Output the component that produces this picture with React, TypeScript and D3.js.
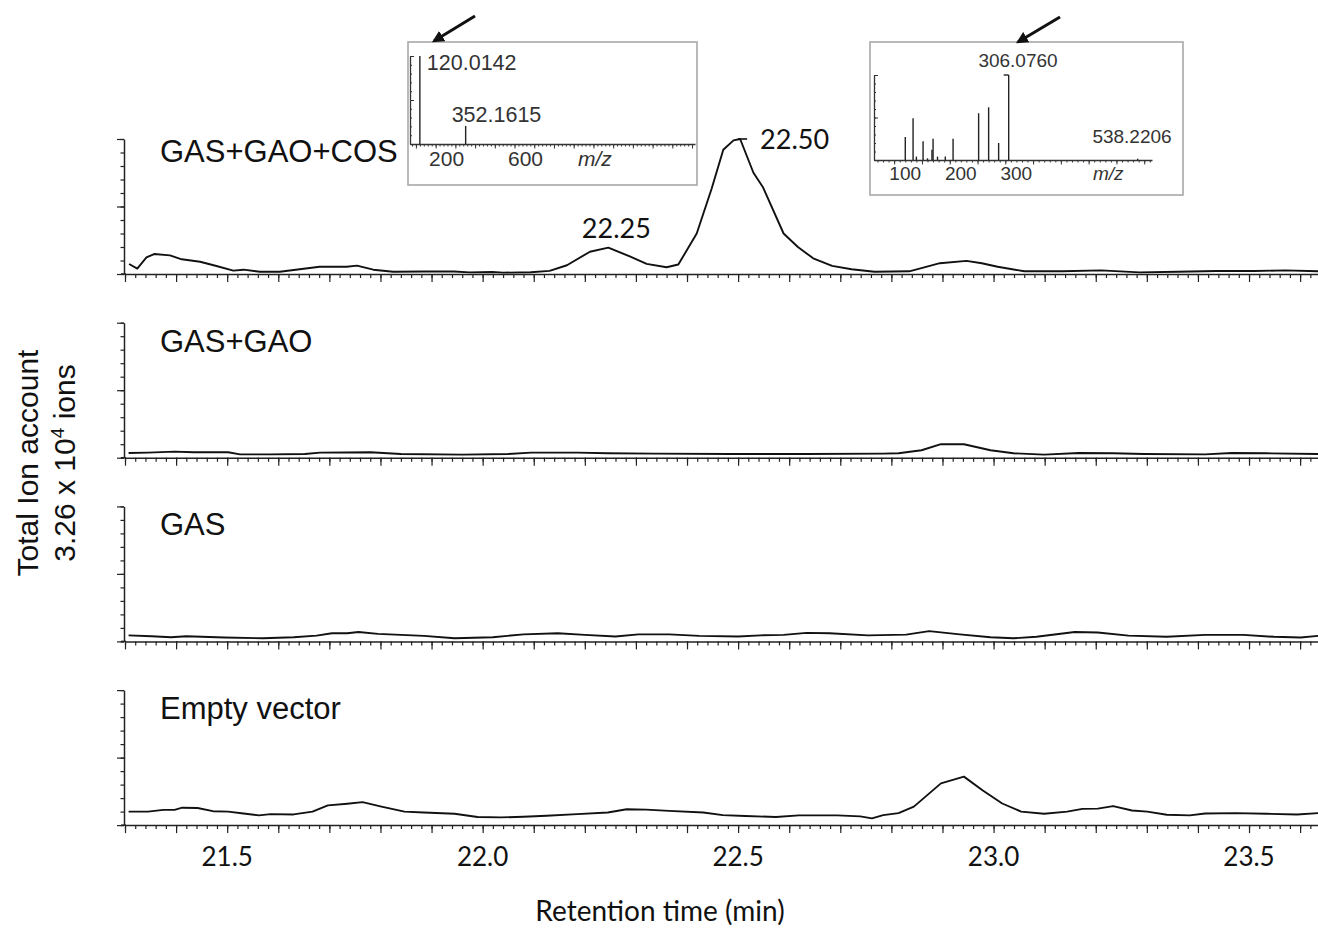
import React, { useEffect, useRef } from "react";
import * as d3 from "d3";

// total ion chromatograms: [retention time (min), % of full scale (3.26 x 10^4 ions)]
const gasGaoCos: [number, number][] = [
  [21.308, 7.4], [21.324, 4], [21.342, 12.3], [21.357, 14.8], [21.388, 13.8], [21.411, 10.9],
  [21.447, 9.1], [21.479, 5.9], [21.512, 2.5], [21.532, 3.2], [21.564, 1.7], [21.603, 1.7],
  [21.642, 3.5], [21.681, 5.4], [21.734, 5.4], [21.754, 6.2], [21.786, 3.2], [21.825, 1.7],
  [21.884, 1.8], [21.944, 1.8], [21.974, 1.2], [22.019, 1.5], [22.04, 1], [22.094, 1.3],
  [22.131, 2.3], [22.165, 6.5], [22.21, 16.5], [22.246, 19.5], [22.288, 13], [22.321, 7.5],
  [22.36, 5], [22.383, 7], [22.419, 30], [22.448, 63], [22.471, 92], [22.491, 99], [22.504, 100],
  [22.53, 75], [22.549, 64], [22.589, 30], [22.617, 20], [22.647, 11.6], [22.684, 6], [22.722, 3.5],
  [22.767, 1.7], [22.835, 2], [22.857, 4.2], [22.895, 8], [22.947, 9.7], [22.977, 8], [23.008, 5.4],
  [23.06, 2], [23.135, 2], [23.21, 2.7], [23.286, 1.2], [23.361, 1.7], [23.436, 2.2], [23.511, 2.2],
  [23.571, 2.7], [23.635, 2],
];
const gasGao: [number, number][] = [
  [21.307, 3.5], [21.345, 3.75], [21.397, 4.5], [21.435, 4], [21.502, 4], [21.525, 2.5],
  [21.585, 2.5], [21.652, 2.75], [21.682, 3.75], [21.78, 4], [21.84, 2.75], [21.96, 2.25],
  [22.05, 2.75], [22.095, 3.75], [22.185, 3.75], [22.245, 3.25], [22.335, 3], [22.484, 2.75],
  [22.634, 2.75], [22.784, 3], [22.814, 3.25], [22.859, 5.5], [22.897, 10], [22.942, 10],
  [22.994, 5.5], [23.039, 3.25], [23.099, 2.25], [23.167, 3.5], [23.234, 3.25], [23.294, 2.75],
  [23.414, 2.5], [23.466, 3.5], [23.534, 3.25], [23.636, 2.75],
];
const gasOnly: [number, number][] = [
  [21.307, 4.5], [21.352, 3.8], [21.39, 3.1], [21.42, 3.8], [21.495, 2.9], [21.57, 2.3],
  [21.63, 3.1], [21.675, 4.3], [21.705, 6], [21.735, 6], [21.757, 7], [21.795, 5.6], [21.885, 4.1],
  [21.945, 2.3], [22.02, 3.1], [22.08, 5.2], [22.147, 6], [22.2, 4.8], [22.26, 3.6], [22.305, 5.2],
  [22.365, 5.2], [22.424, 4.1], [22.5, 3.6], [22.544, 4.5], [22.589, 4.8], [22.634, 6.3],
  [22.679, 6], [22.754, 4.5], [22.829, 5], [22.874, 7.6], [22.934, 5.2], [22.994, 3.1],
  [23.039, 2.3], [23.084, 3.4], [23.159, 7], [23.204, 6.6], [23.264, 4.3], [23.339, 3.4],
  [23.414, 4.8], [23.489, 4.8], [23.549, 3.4], [23.601, 2.9], [23.636, 4.1],
];
const emptyVector: [number, number][] = [
  [21.307, 10], [21.345, 10], [21.375, 11.3], [21.397, 11.3], [21.412, 12.9], [21.442, 12.7],
  [21.472, 10.3], [21.502, 10], [21.532, 8.6], [21.562, 7.2], [21.585, 8.1], [21.63, 7.9],
  [21.667, 10], [21.697, 14.6], [21.735, 15.8], [21.765, 17], [21.802, 13.7], [21.847, 10],
  [21.885, 9.3], [21.945, 8.4], [21.99, 6], [22.035, 5.7], [22.08, 6.2], [22.125, 6.9],
  [22.185, 8.1], [22.245, 9.3], [22.282, 11.7], [22.32, 11.5], [22.365, 10.5], [22.432, 9.3],
  [22.47, 7.4], [22.514, 6.7], [22.574, 6], [22.619, 7.2], [22.694, 7.2], [22.739, 6.5],
  [22.762, 5], [22.784, 7.4], [22.814, 8.9], [22.844, 13.7], [22.897, 30.9], [22.942, 35.9],
  [22.979, 25.6], [23.017, 16], [23.054, 10], [23.099, 8.4], [23.144, 10], [23.174, 12],
  [23.204, 12.2], [23.234, 14.1], [23.271, 10.8], [23.301, 10], [23.339, 7.7], [23.384, 7.2],
  [23.414, 8.6], [23.474, 8.9], [23.534, 8.4], [23.594, 7.9], [23.636, 8.9],
];

const sampleNames = ["GAS+GAO+COS", "GAS+GAO", "GAS", "Empty vector"];
const traces = [gasGaoCos, gasGao, gasOnly, emptyVector];
const rtLabels = [21.5, 22.0, 22.5, 23.0, 23.5];
const peakRts = [22.25, 22.5];
const peakTexts = ["22.25", "22.50"];

// MS spectra in the insets (m/z, relative intensity %)
const spec1Mz = [120.0142, 352.1615];
const spec1Int = [100, 20.5];
const spec1Labels = ["120.0142", "352.1615"];
const spec1Ticks = [200, 600];
const spec2Mz = [120, 134, 140, 152, 160, 168, 170, 178, 192, 206, 252, 270, 288, 306.076, 538.2206];
const spec2Int = [27, 49, 4, 22, 2, 12, 25, 4, 4, 25, 55, 62, 20, 100, 1.5];
const spec2Ticks = [100, 200, 300];

const ARIAL = "'Liberation Sans', Arial, sans-serif";
const CALIBRI = "Lato, 'Open Sans', sans-serif";

export default function App() {
  const ref = useRef<SVGSVGElement>(null);

  useEffect(() => {
    const svg = d3.select(ref.current);
    svg.selectAll("*").remove();

    const x = d3.scaleLinear().domain([21.3, 23.635]).range([125, 1318]);
    const minorRt = d3.range(0, 117).map((i) => +(21.3 + i * 0.02).toFixed(2)).filter((v) => v <= 23.63);
    const majorRt = d3.range(0, 24).map((i) => +(21.3 + i * 0.1).toFixed(1));

    const line = d3.line<[number, number]>();

    traces.forEach((data, i) => {
      const top = 139 + i * 183.7;
      const base = top + 135;
      const y = d3.scaleLinear().domain([0, 100]).range([base, top]);
      const g = svg.append("g");

      const xa = g.append("g").attr("transform", `translate(0,${base})`);
      xa.call(d3.axisBottom(x).tickValues(minorRt).tickSize(4).tickSizeOuter(0).tickFormat(() => ""));
      xa.append("g").call(d3.axisBottom(x).tickValues(majorRt).tickSize(8).tickSizeOuter(0).tickFormat(() => ""))
        .select(".domain").remove();
      g.append("line").attr("x1", 121).attr("x2", 126).attr("y1", base).attr("y2", base)
        .attr("stroke", "#222").attr("stroke-width", 1.5);

      const ya = g.append("g").attr("transform", "translate(124,0)");
      ya.call(d3.axisLeft(y).tickValues(d3.range(0, 101, 10)).tickSize(3.5).tickSizeOuter(0).tickFormat(() => ""));
      ya.append("g").call(d3.axisLeft(y).tickValues([0, 50, 100]).tickSize(7).tickSizeOuter(0).tickFormat(() => ""))
        .select(".domain").remove();

      g.selectAll(".domain").attr("stroke", "#222").attr("stroke-width", 1.5);
      g.selectAll(".tick line").attr("stroke", "#222").attr("stroke-width", 1.2);

      line.x((d) => x(d[0])).y((d) => y(d[1]));
      g.append("path").datum(data).attr("d", line).attr("fill", "none")
        .attr("stroke", "#111").attr("stroke-width", 1.9).attr("stroke-linejoin", "round");

      g.append("text").attr("x", 160).attr("y", top + (i === 0 ? 23 : 29))
        .attr("font-family", ARIAL).attr("font-size", 31).attr("fill", "#111")
        .text(sampleNames[i]);

      if (i === 0) {
        g.append("text").attr("x", x(peakRts[0]) + 6).attr("y", 238).attr("text-anchor", "middle")
          .attr("font-family", CALIBRI).attr("font-size", 27).attr("fill", "#111").text(peakTexts[0]);
        g.append("line").attr("x1", x(peakRts[1])).attr("x2", x(peakRts[1]) + 9)
          .attr("y1", y(100)).attr("y2", y(100)).attr("stroke", "#111").attr("stroke-width", 1.6);
        g.append("text").attr("x", x(peakRts[1]) + 22).attr("y", 149)
          .attr("font-family", CALIBRI).attr("font-size", 27).attr("fill", "#111").text(peakTexts[1]);
      }
      if (i === traces.length - 1) {
        g.selectAll(".rtlab").data(rtLabels).join("text")
          .attr("x", (d) => x(d)).attr("y", 866).attr("text-anchor", "middle")
          .attr("font-family", CALIBRI).attr("font-size", 26).attr("fill", "#111")
          .text((d) => d.toFixed(1));
      }
    });

    svg.append("text").attr("x", 660).attr("y", 921).attr("text-anchor", "middle")
      .attr("font-family", CALIBRI).attr("font-size", 28).attr("fill", "#111")
      .text("Retention time (min)");

    const yt = svg.append("g").attr("font-family", ARIAL).attr("font-size", 30).attr("fill", "#111");
    yt.append("text").attr("transform", "translate(38,463) rotate(-90)").attr("text-anchor", "middle")
      .text("Total Ion account");
    const t2 = yt.append("text").attr("transform", "translate(75,463) rotate(-90)").attr("text-anchor", "middle");
    t2.append("tspan").text("3.26 x 10");
    t2.append("tspan").attr("font-size", 19).attr("dy", -11).text("4");
    t2.append("tspan").attr("dy", 11).text(" ions");

    // arrow marker
    svg.append("defs").append("marker").attr("id", "ah").attr("viewBox", "0 0 10 10")
      .attr("refX", 8).attr("refY", 5).attr("markerWidth", 4).attr("markerHeight", 4)
      .attr("orient", "auto").append("path").attr("d", "M0,0L10,5L0,10z").attr("fill", "#111");

    const inset = (
      box: [number, number, number, number],
      xr: [number, number], dom: [number, number], yr: [number, number],
      mz: number[], inten: number[], minorStep: number, majorStep: number,
      ticks: number[], fs: number, axisY: number,
    ) => {
      const g = svg.append("g");
      g.append("rect").attr("x", box[0]).attr("y", box[1]).attr("width", box[2]).attr("height", box[3])
        .attr("fill", "#fff").attr("stroke", "#a8a8a8").attr("stroke-width", 1.6);
      const xs = d3.scaleLinear().domain(dom).range(xr);
      const ys = d3.scaleLinear().domain([0, 100]).range(yr);
      const minor = d3.range(Math.ceil(dom[0] / minorStep) * minorStep, dom[1], minorStep);
      const major = d3.range(Math.ceil(dom[0] / majorStep) * majorStep, dom[1], majorStep);
      const xa = g.append("g").attr("transform", `translate(0,${yr[0]})`);
      xa.call(d3.axisBottom(xs).tickValues(minor).tickSize(2.5).tickSizeOuter(0).tickFormat(() => ""));
      xa.append("g").call(d3.axisBottom(xs).tickValues(major).tickSize(4.5).tickSizeOuter(0).tickFormat(() => ""))
        .select(".domain").remove();
      const ya = g.append("g").attr("transform", `translate(${xr[0]},0)`);
      ya.call(d3.axisRight(ys).tickValues(d3.range(0, 101, 10)).tickSize(2).tickSizeOuter(0).tickFormat(() => ""));
      ya.append("g").call(d3.axisRight(ys).tickValues([0, 50, 100]).tickSize(4).tickSizeOuter(0).tickFormat(() => ""))
        .select(".domain").remove();
      g.selectAll(".domain").attr("stroke", "#333").attr("stroke-width", 1.3);
      g.selectAll(".tick line").attr("stroke", "#333").attr("stroke-width", 1);
      g.selectAll(".peak").data(mz).join("line")
        .attr("x1", (d) => xs(d)).attr("x2", (d) => xs(d))
        .attr("y1", yr[0]).attr("y2", (d, k) => ys(inten[k]))
        .attr("stroke", "#222").attr("stroke-width", 1.4);
      g.selectAll(".tl").data(ticks).join("text")
        .attr("x", (d) => xs(d) + 11).attr("y", axisY).attr("text-anchor", "middle")
        .attr("font-family", ARIAL).attr("font-size", fs).attr("fill", "#333").text((d) => String(d));
      return { g, xs, ys };
    };

    const a = inset([408, 42, 289, 143], [410, 695], [70, 1515], [144, 56],
      spec1Mz, spec1Int, 20, 100, spec1Ticks, 21, 166);
    a.g.append("text").attr("x", 578).attr("y", 166).attr("font-family", ARIAL).attr("font-style", "italic")
      .attr("font-size", 21).attr("fill", "#333").text("m/z");
    a.g.append("text").attr("x", a.xs(spec1Mz[0]) + 7).attr("y", 70).attr("font-family", ARIAL)
      .attr("font-size", 21.5).attr("fill", "#333").text(spec1Labels[0]);
    a.g.append("text").attr("x", a.xs(spec1Mz[1]) - 14).attr("y", 122).attr("font-family", ARIAL)
      .attr("font-size", 21.5).attr("fill", "#333").text(spec1Labels[1]);
    svg.append("line").attr("x1", 475).attr("y1", 16).attr("x2", 434).attr("y2", 41)
      .attr("stroke", "#111").attr("stroke-width", 3).attr("marker-end", "url(#ah)");

    const b = inset([870, 42, 313, 153], [874, 1152], [63.7, 564], [160, 75],
      spec2Mz, spec2Int, 10, 50, spec2Ticks, 19, 180);
    b.g.append("text").attr("x", 1093).attr("y", 180).attr("font-family", ARIAL).attr("font-style", "italic")
      .attr("font-size", 19).attr("fill", "#333").text("m/z");
    b.g.append("line").attr("x1", b.xs(306.076) - 5).attr("x2", b.xs(306.076)).attr("y1", 75).attr("y2", 75)
      .attr("stroke", "#222").attr("stroke-width", 1.4);
    b.g.append("text").attr("x", 1018).attr("y", 67).attr("text-anchor", "middle").attr("font-family", ARIAL)
      .attr("font-size", 19).attr("fill", "#333").text("306.0760");
    b.g.append("text").attr("x", 1132).attr("y", 143).attr("text-anchor", "middle").attr("font-family", ARIAL)
      .attr("font-size", 19).attr("fill", "#333").text("538.2206");
    svg.append("line").attr("x1", 1060).attr("y1", 17).attr("x2", 1018).attr("y2", 42)
      .attr("stroke", "#111").attr("stroke-width", 3).attr("marker-end", "url(#ah)");
  }, []);

  return (
    <svg ref={ref} width={1318} height={933}
      style={{ position: "absolute", left: 0, top: 0, background: "#fff" }} />
  );
}
